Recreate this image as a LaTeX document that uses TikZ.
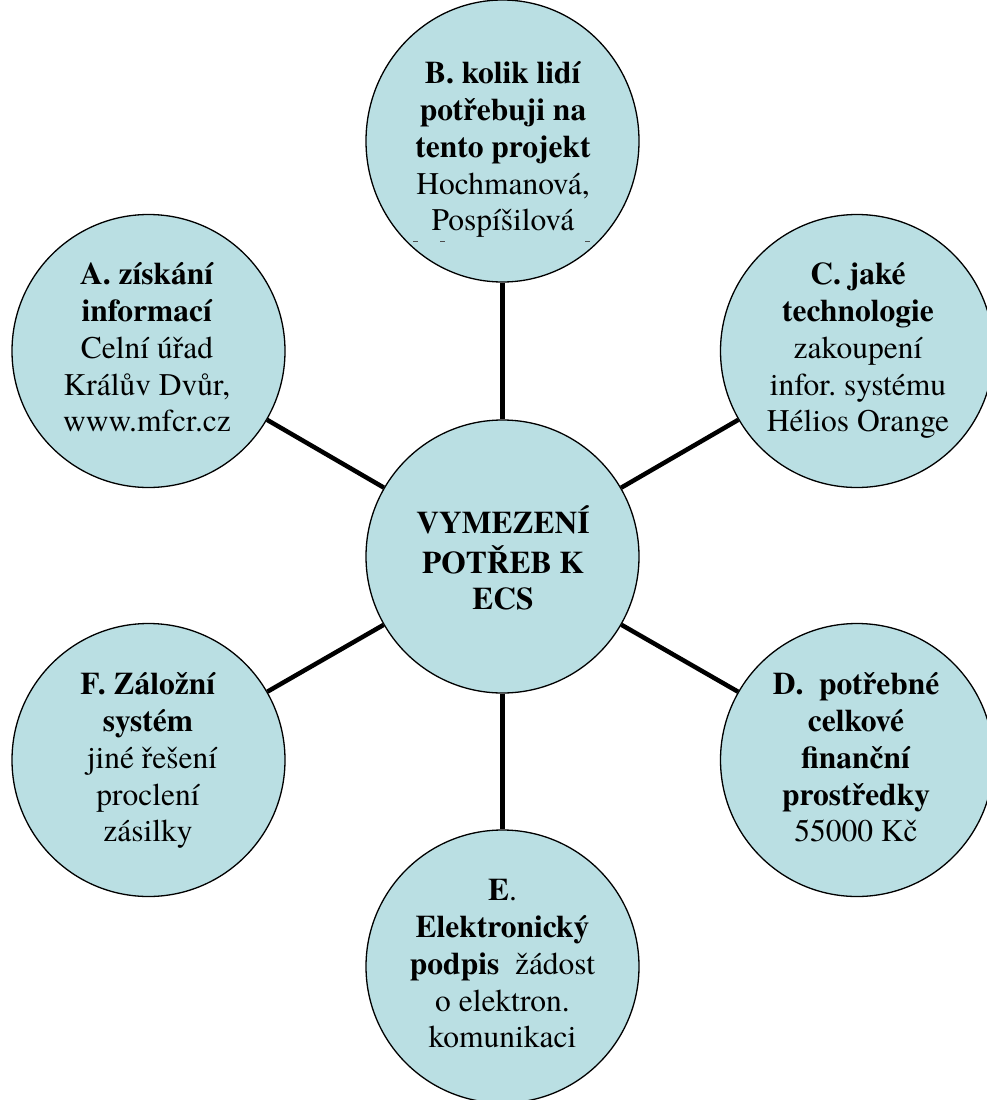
\documentclass[tikz,border=0pt]{standalone}
\usetikzlibrary{shapes.geometric}
\usepackage{fontspec}
\setmainfont{texgyretermes}[Extension=.otf, UprightFont=*-regular,
  BoldFont=*-bold, ItalicFont=*-italic, BoldItalicFont=*-bolditalic]
\definecolor{bubblefill}{RGB}{186,223,227}
\begin{document}
\begin{tikzpicture}[x=1pt,y=-1pt,
  bubble/.style={circle, draw=black, line width=1.3pt, fill=bubblefill,
                 minimum size=273pt, inner sep=0pt},
  bubbletext/.style={align=center, inner sep=0pt,
                     font=\fontsize{31.5}{36.7}\selectfont\frenchspacing},
  spoke/.style={line width=4.5pt, draw=black}]
\useasboundingbox (0,0) rectangle (987,1100);
\clip (0,0) rectangle (987,1100);

% circles
\node[bubble] (core) at (502.5,556.5) {};
\node[bubble] (A) at (148.5,351) {};
\node[bubble, ellipse, minimum width=273pt, minimum height=282pt] (B) at (502.5,141) {};
\node[bubble] (C) at (857,351) {};
\node[bubble] (D) at (857,760) {};
\node[bubble] (E) at (502.5,966.5) {};
\node[bubble] (F) at (148.5,760) {};

% spokes from the hub to every circle
\foreach \n in {A,B,C,D,E,F}
  \draw[spoke] (core) -- (\n);

% texts
\node[bubbletext] (tcore) at (503,563)
  {\textbf{VYMEZENÍ}\strut\\ \textbf{POTŘEB K}\strut\\ \textbf{ECS}\strut};
\node[bubbletext] (tA) at (147,351)
  {\textbf{A. získání}\strut\\ \textbf{informací}\strut\\ Celní úřad\strut\\
   Králův Dvůr,\strut\\ www.mfcr.cz\strut};
\node[bubbletext] (tB) at (503,150)
  {\textbf{B. kolik lidí}\strut\\ \textbf{potřebuji na}\strut\\
   \textbf{tento projekt}\strut\\ Hochmanová,\strut\\ Pospíšilová\strut};
\node[bubbletext] (tC) at (858,351)
  {\textbf{C. jaké}\strut\\ \textbf{technologie}\strut\\ zakoupení\strut\\
   infor. systému\strut\\ Hélios Orange\strut};
\node[bubbletext] (tD) at (856,761)
  {\textbf{D.\ \ potřebné}\strut\\ \textbf{celkové}\strut\\ \textbf{finanční}\strut\\
   \textbf{prostředky}\strut\\ 55000 Kč\strut};
\node[bubbletext] (tE) at (502.5,967)
  {\textbf{E}.\strut\\ \textbf{Elektronický}\strut\\ \textbf{podpis}\ \ žádost\strut\\
   o elektron.\strut\\ komunikaci\strut};
\node[bubbletext] (tF) at (148,761)
  {\textbf{F. Záložní}\strut\\ \textbf{systém}\strut\\ \ jiné řešení\strut\\
   proclení\strut\\ zásilky\strut};

% tops of a clipped text line under the names in B
\foreach \x in {413,440,585}
  \draw[line width=0.8pt, black!70] (\x,241) -- (\x+5,241);
\end{tikzpicture}
\end{document}
